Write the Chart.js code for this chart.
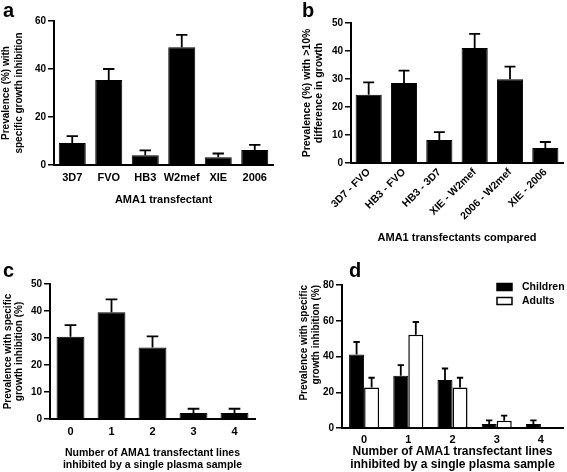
<!DOCTYPE html>
<html>
<head>
<meta charset="utf-8">
<script src="https://cdn.jsdelivr.net/npm/chart.js@4.4.1/dist/chart.umd.min.js"></script>
<style>
  html, body { margin: 0; padding: 0; background: #fff; }
  body { width: 567px; height: 472px; position: relative; overflow: hidden; font-family: 'Liberation Sans', Arial, sans-serif; }
  .panel { position: absolute; }
  .tag { position: absolute; font-weight: bold; font-size: 20px; line-height: 20px; color: #000; }
</style>
</head>
<body>
<div class="panel" style="left:0;top:0;width:283px;height:232px"><canvas id="chartA"></canvas></div>
<div class="panel" style="left:283px;top:0;width:284px;height:250px"><canvas id="chartB"></canvas></div>
<div class="panel" style="left:0;top:240px;width:283px;height:232px"><canvas id="chartC"></canvas></div>
<div class="panel" style="left:283px;top:240px;width:284px;height:232px"><canvas id="chartD"></canvas></div>
<div class="tag" style="left:3px;top:0px">a</div>
<div class="tag" style="left:302px;top:0px">b</div>
<div class="tag" style="left:3px;top:260px">c</div>
<div class="tag" style="left:349px;top:260px">d</div>
<script>
// --- data ---
const transfectants = ['3D7', 'FVO', 'HB3', 'W2mef', 'XIE', '2006'];
const inhibitionA = [9.2, 35.4, 4.1, 49.1, 3.2, 6.2];
const inhibitionErrA = [2.8, 4.6, 2.0, 5.1, 1.6, 2.2];
const yTicksA = [0, 20, 40, 60];

const pairs = ['3D7 - FVO', 'HB3 - FVO', 'HB3 - 3D7', 'XIE - W2mef', '2006 - W2mef', 'XIE - 2006'];
const differenceB = [24.4, 28.6, 8.2, 41.1, 29.9, 5.4];
const differenceErrB = [4.4, 4.4, 2.8, 5.0, 4.5, 2.1];
const yTicksB = [0, 10, 20, 30, 40, 50];

const linesInhibited = ['0', '1', '2', '3', '4'];
const prevalenceC = [30.5, 39.5, 26.5, 2.2, 2.2];
const prevalenceErrC = [4.3, 4.8, 4.1, 1.6, 1.6];
const yTicksC = [0, 10, 20, 30, 40, 50];

const children = [41.1, 29.3, 26.9, 2.2, 2.2];
const childrenErr = [7.0, 5.9, 6.4, 2.1, 2.1];
const adults = [22.6, 52.2, 22.6, 4.1, 0];
const adultsErr = [5.5, 7.1, 5.5, 2.8, 0];
const yTicksD = [0, 20, 40, 60, 80];

const FONT = "'Liberation Sans', Arial, sans-serif";

// upward SEM whiskers on each bar
const errorBars = {
    id: 'errorBars',
    afterDatasetsDraw(chart) {
        const ctx = chart.ctx;
        const yScale = chart.scales.y;
        chart.data.datasets.forEach((ds, di) => {
            if (!ds.errors) return;
            chart.getDatasetMeta(di).data.forEach((bar, i) => {
                const err = ds.errors[i];
                if (!err) return;
                const top = yScale.getPixelForValue(ds.data[i]);
                const end = yScale.getPixelForValue(ds.data[i] + err);
                const cap = bar.width * 0.42;
                ctx.save();
                ctx.strokeStyle = '#000';
                ctx.lineWidth = 1.8;
                ctx.beginPath();
                ctx.moveTo(bar.x, top);
                ctx.lineTo(bar.x, end);
                ctx.moveTo(bar.x - cap / 2, end);
                ctx.lineTo(bar.x + cap / 2, end);
                ctx.stroke();
                ctx.restore();
            });
        });
    }
};

// small legend for panel d, drawn inside the plot
const boxLegend = {
    id: 'boxLegend',
    afterDraw(chart, args, opts) {
        const ctx = chart.ctx;
        chart.data.datasets.forEach((ds, i) => {
            const cy = opts.y + i * opts.gap;
            ctx.save();
            ctx.fillStyle = ds.backgroundColor;
            ctx.fillRect(opts.x, cy - 3.5, 15, 7);
            ctx.strokeStyle = '#000';
            ctx.lineWidth = 1.5;
            ctx.strokeRect(opts.x, cy - 3.5, 15, 7);
            ctx.fillStyle = '#000';
            ctx.font = 'bold 10.5px ' + FONT;
            ctx.textBaseline = 'middle';
            ctx.fillText(ds.label, opts.x + 25, cy);
            ctx.restore();
        });
    }
};

function axisOptions(cfg) {
    return {
        responsive: true,
        maintainAspectRatio: false,
        animation: false,
        layout: { padding: cfg.padding },
        scales: {
            x: {
                afterFit: s => { s.height = cfg.xHeight; },
                grid: { display: false, drawTicks: false },
                border: { display: true, color: '#000', width: 2 },
                ticks: {
                    color: '#000',
                    font: { family: FONT, size: cfg.xTickSize, weight: 'bold' },
                    padding: cfg.xTickPad,
                    minRotation: cfg.rotation || 0,
                    maxRotation: cfg.rotation || 0,
                    autoSkip: false
                },
                title: {
                    display: true,
                    text: cfg.xTitle,
                    color: '#000',
                    font: { family: FONT, size: cfg.xTitleSize, weight: 'bold', lineHeight: cfg.xTitleLh },
                    padding: { top: 0, bottom: cfg.xTitlePad }
                }
            },
            y: {
                min: cfg.yTicks[0],
                max: cfg.yTicks[cfg.yTicks.length - 1],
                afterFit: s => { s.width = cfg.yWidth; },
                afterBuildTicks: s => { s.ticks = cfg.yTicks.map(v => ({ value: v })); },
                grid: { display: true, drawOnChartArea: false, drawTicks: true, tickLength: 6, color: '#000', lineWidth: 1.5 },
                border: { display: true, color: '#000', width: 2 },
                ticks: { color: '#000', font: { family: FONT, size: 10, weight: 'bold' }, padding: 2 },
                title: {
                    display: true,
                    text: cfg.yTitle,
                    align: cfg.yTitleAlign || 'center',
                    color: '#000',
                    font: { family: FONT, size: cfg.yTitleSize, weight: 'bold', lineHeight: cfg.yTitleLh },
                    padding: { top: cfg.yTitlePad, bottom: 0 }
                }
            }
        },
        plugins: {
            legend: { display: false },
            tooltip: { enabled: false },
            boxLegend: cfg.legend || {}
        }
    };
}

// a. prevalence of specific growth inhibition per transfectant
new Chart(document.getElementById('chartA'), {
    type: 'bar',
    data: {
        labels: transfectants,
        datasets: [{
            data: inhibitionA,
            errors: inhibitionErrA,
            backgroundColor: '#000',
            borderColor: '#000',
            borderWidth: 1,
            barPercentage: 1,
            categoryPercentage: 0.74
        }]
    },
    options: axisOptions({
        padding: { top: 21, right: 10, left: 0, bottom: 0 },
        xHeight: 67, yWidth: 54, yTicks: yTicksA,
        xTickSize: 11, xTickPad: 6,
        xTitle: 'AMA1 transfectant', xTitleSize: 11, xTitleLh: 1.2, xTitlePad: 25,
        yTitle: ['Prevalence (%) with', 'specific growth inhibition'], yTitleSize: 10, yTitleLh: 1.3, yTitlePad: 0
    }),
    plugins: [errorBars]
});

// b. pairs differing by >10% in growth
new Chart(document.getElementById('chartB'), {
    type: 'bar',
    data: {
        labels: pairs,
        datasets: [{
            data: differenceB,
            errors: differenceErrB,
            backgroundColor: '#000',
            borderColor: '#000',
            borderWidth: 1,
            barPercentage: 1,
            categoryPercentage: 0.74
        }]
    },
    options: axisOptions({
        padding: { top: 23, right: 4, left: 0, bottom: 0 },
        xHeight: 87, yWidth: 68, yTicks: yTicksB,
        xTickSize: 10.5, xTickPad: 3, rotation: 45,
        xTitle: 'AMA1 transfectants compared', xTitleSize: 11, xTitleLh: 1.2, xTitlePad: 5,
        yTitle: ['Prevalence (%) with >10%', 'difference in growth'], yTitleSize: 10.5, yTitleLh: 1.15, yTitlePad: 18
    }),
    plugins: [errorBars]
});

// c. number of lines inhibited by one plasma sample
new Chart(document.getElementById('chartC'), {
    type: 'bar',
    data: {
        labels: linesInhibited,
        datasets: [{
            data: prevalenceC,
            errors: prevalenceErrC,
            backgroundColor: '#000',
            borderColor: '#000',
            borderWidth: 1,
            barPercentage: 1,
            categoryPercentage: 0.68
        }]
    },
    options: axisOptions({
        padding: { top: 44, right: 28, left: 0, bottom: 0 },
        xHeight: 53, yWidth: 50, yTicks: yTicksC,
        xTickSize: 11, xTickPad: 6,
        xTitle: ['Number of AMA1 transfectant lines', 'inhibited by a single plasma sample'], xTitleSize: 10.5, xTitleLh: 1.15, xTitlePad: 1,
        yTitle: ['Prevalence with specific', 'growth inhibition (%)'], yTitleSize: 10, yTitleLh: 1.1, yTitlePad: 2.5
    }),
    plugins: [errorBars]
});

// d. children vs adults
new Chart(document.getElementById('chartD'), {
    type: 'bar',
    data: {
        labels: linesInhibited,
        datasets: [
            {
                label: 'Children',
                data: children,
                errors: childrenErr,
                backgroundColor: '#000',
                borderColor: '#000',
                borderWidth: 1,
                barPercentage: 1,
                categoryPercentage: 0.68
            },
            {
                label: 'Adults',
                data: adults,
                errors: adultsErr,
                backgroundColor: '#fff',
                borderColor: '#000',
                borderWidth: 1.5,
                barPercentage: 1,
                categoryPercentage: 0.68
            }
        ]
    },
    options: axisOptions({
        padding: { top: 45, right: 4, left: 0, bottom: 0 },
        xHeight: 44, yWidth: 59, yTicks: yTicksD,
        xTickSize: 11, xTickPad: 5,
        xTitle: ['Number of AMA1 transfectant lines', 'inhibited by a single plasma sample'], xTitleSize: 12, xTitleLh: 1.08, xTitlePad: 0.5,
        yTitle: ['Prevalence with specific', 'growth inhibition (%)'], yTitleSize: 10, yTitleLh: 1.15, yTitlePad: 15.5, yTitleAlign: 'end',
        legend: { x: 214, y: 47, gap: 14 }
    }),
    plugins: [errorBars, boxLegend]
});
</script>
</body>
</html>
